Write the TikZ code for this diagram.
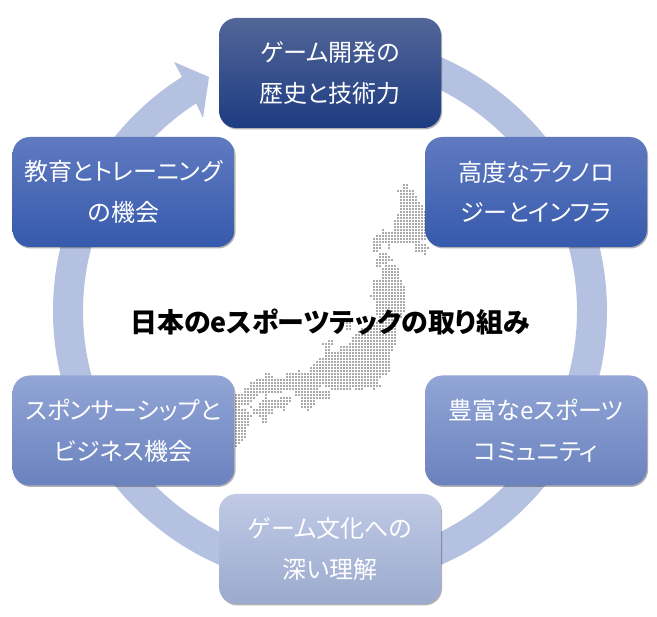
\documentclass[tikz,border=0pt]{standalone}
\usepackage{fontspec}
\setmainfont[RawFeature=+palt]{Noto Sans CJK JP}
\usepackage{xcolor}
\usetikzlibrary{calc, shadows}
\definecolor{ringblue}{RGB}{180, 193, 224}
\definecolor{dotgray}{RGB}{85, 85, 85}
\tikzset{
  topicbox/.style={rounded corners=13pt, minimum width=166.5pt, minimum height=82.5pt, inner sep=0pt,
    align=center, text=white, font=\fontsize{18}{30.5}\selectfont,
    drop shadow={shadow xshift=0.8pt, shadow yshift=-1.1pt, opacity=0.3, fill=black}},
  darkbox/.style={topicbox, top color={rgb,255:red,82;green,102;blue,152}, middle color={rgb,255:red,42;green,72;blue,142}, bottom color={rgb,255:red,30;green,60;blue,130}},
  midbox/.style={topicbox, top color={rgb,255:red,96;green,122;blue,192}, middle color={rgb,255:red,66;green,106;blue,192}, bottom color={rgb,255:red,54;green,90;blue,172}},
  softbox/.style={topicbox, top color={rgb,255:red,146;green,165;blue,214}, middle color={rgb,255:red,126;green,147;blue,210}, bottom color={rgb,255:red,106;green,130;blue,190}},
  paleboxx/.style={topicbox, top color={rgb,255:red,192;green,202;blue,230}, middle color={rgb,255:red,176;green,190;blue,225}, bottom color={rgb,255:red,155;green,170;blue,205}},
}
\begin{document}
\begin{tikzpicture}[x=0.75pt, y=0.75pt]
  \useasboundingbox (0,0) rectangle (657,617);
  \coordinate (ringc) at (330,306);
  % ring with arrow head
  \fill[ringblue] ($(ringc)+(90:277)$) arc (90:-237.7:277)
    -- (174,555) -- (209,540) -- (203,499) -- ($(ringc)+(122.8:247)$)
    arc (-237.2:90:247) -- cycle;
  % dotted map
  \fill[dotgray] \foreach \r/\a/\b in {
    5/68/69, 6/68/69, 7/66/71, 8/67/71, 9/67/72, 10/67/72, 11/67/73, 12/67/74, 13/67/74, 14/67/75,
    15/66/75, 16/66/75, 17/65/75, 18/65/75, 19/65/75, 20/61/61, 20/65/75, 21/61/75, 22/59/75, 23/58/75,
    24/58/73, 25/58/60, 25/63/63, 25/72/75, 26/58/60, 26/63/63, 26/72/76, 27/58/59, 27/72/75, 28/60/62, 28/75/75,
    29/60/63, 30/59/64, 31/59/62, 32/59/60, 32/62/65, 33/61/66, 34/61/66, 35/61/66, 36/61/66, 37/58/67,
    38/58/67, 39/58/68, 40/58/68, 41/58/68, 42/57/68, 43/58/68, 44/59/68, 45/59/68, 46/59/68, 47/59/68,
    48/59/67, 49/60/67, 50/60/66, 51/49/50, 51/59/65, 52/49/50, 52/58/65, 53/49/50, 53/54/65, 54/53/65,
    55/52/65, 56/51/65, 57/43/44, 57/51/65, 58/41/44, 58/50/65, 59/42/43, 59/47/64, 60/42/43, 60/47/64,
    61/42/63, 62/42/63, 63/40/63, 64/39/63, 65/38/63, 66/37/63, 67/33/33, 67/37/63, 68/22/23, 68/29/62,
    69/22/24, 69/29/60, 70/19/59, 71/17/59, 72/17/40, 72/42/60, 73/15/39, 73/44/50, 73/52/54, 73/58/58,
    74/15/27, 74/32/43, 75/12/19, 75/22/22, 75/32/43, 76/12/18, 76/22/22, 76/27/30, 76/34/43, 77/12/17,
    77/21/30, 77/34/38, 78/12/16, 78/20/29, 78/34/38, 79/12/13, 79/17/17, 79/20/28, 79/34/37, 80/12/15,
    80/18/24, 80/28/28, 80/36/36, 81/12/16, 81/18/24, 82/12/17, 82/20/22, 83/12/16, 83/21/22, 84/12/16,
    84/21/22, 85/12/16, 86/12/15, 87/12/15, 88/12/15, 89/12/15, 90/12/14, 91/12/13, 92/12/12} {
    \foreach \n in {\a,...,\b} { (200+3*\n,447-3*\r) circle (0.8) } };
  % boxes
  \node[darkbox] (history) at (330,544) {ゲーム開発の\\歴史と技術力};
  \node[midbox] (tech) at (536,425) {高度なテクノロ\\ジーとインフラ};
  \node[softbox] (community) at (536,186.5) {豊富なeスポーツ\\コミュニティ};
  \node[paleboxx] (culture) at (330,68) {ゲーム文化への\\深い理解};
  \node[softbox] (sponsor) at (123.5,186.5) {スポンサーシップと\\ビジネス機会};
  \node[midbox] (training) at (123.5,425) {教育とトレーニング\\の機会};
  \node[font=\fontsize{20.2}{24}\selectfont\bfseries] (title) at (330,295) {日本のeスポーツテックの取り組み};
\end{tikzpicture}
\end{document}
